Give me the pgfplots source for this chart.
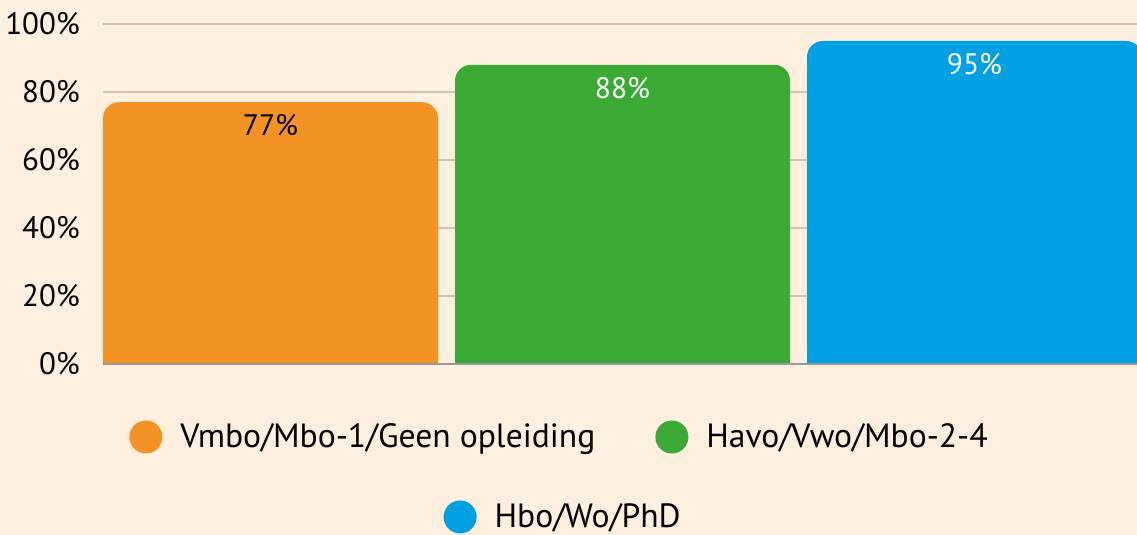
\documentclass[border=0pt]{standalone}
\usepackage{pgfplots}
\pgfplotsset{compat=1.18}
\usepackage{fontspec}
\setmainfont{PT Sans}
\definecolor{bg}{HTML}{FEEFDF}
\definecolor{c1}{HTML}{F39325}
\definecolor{c2}{HTML}{3BAA35}
\definecolor{c3}{HTML}{00A0E3}
\definecolor{gridc}{HTML}{D0C4B6}
\newcommand{\chartfont}{\fontsize{15.5}{18}\selectfont}
\newcommand{\barfont}{\fontsize{14.8}{17}\selectfont}
\newcommand{\legfont}{\fontsize{16.8}{19}\selectfont}
\pgfplotsset{circleg/.style={legend image code/.code={\fill[##1] (0pt,0pt) circle (8.25pt);}}}
\begin{document}
\begin{tikzpicture}
\fill[bg] (0,0) rectangle (568.5pt,267.5pt);
\useasboundingbox (0,0) rectangle (568.5pt,267.5pt);
% values are drawn with an offset of 20, so that 0% sits at 20 and the
% bars' own base (at the lower axis limit) lies below it, under a cover
\begin{axis}[
  at={(51.5pt,68.5pt)}, anchor=south west,
  scale only axis, width=517pt, height=187pt,
  xmin=-0.476, xmax=2.4616,
  ymin=10, ymax=120,
  ytick={20,40,60,80,100,120},
  yticklabels={0\%,20\%,40\%,60\%,80\%,100\%},
  xtick=\empty,
  ymajorgrids,
  grid style={gridc, line width=0.8pt},
  major tick length=0pt,
  axis line style={draw=none},
  yticklabel style={font=\chartfont, text=black, xshift=-8pt},
  /pgf/number format/assume math mode=true,
  point meta=explicit,
  nodes near coords={\pgfmathprintnumber{\pgfplotspointmeta}\%},
  every node near coord/.append style={font=\barfont, anchor=north, inner sep=0pt, yshift=-6pt},
  legend columns=2,
  legend style={at={(0.0251,-0.1043)}, anchor=west, draw=none, fill=none, inner sep=0pt,
    font=\legfont,
    /tikz/every odd column/.append style={column sep=7pt},
    /tikz/every even column/.append style={column sep=28pt}},
]
\addplot[ybar, bar width=167.5pt, bar shift=0pt, fill=c1, draw=none, rounded corners=8pt,
  circleg, every node near coord/.append style={text=black}]
  table[x=x, y expr=\thisrow{v}+20, meta=v] {
x v
0 77
};
\addlegendentry{Vmbo/Mbo-1/Geen opleiding}
\addplot[ybar, bar width=167.5pt, bar shift=0pt, fill=c2, draw=none, rounded corners=8pt,
  circleg, every node near coord/.append style={text=white}]
  table[x=x, y expr=\thisrow{v}+20, meta=v] {
x v
1 88
};
\addlegendentry{Havo/Vwo/Mbo-2-4}
\addplot[ybar, bar width=167.5pt, bar shift=0pt, fill=c3, draw=none, rounded corners=8pt,
  every node near coord/.append style={text=white}]
  table[x=x, y expr=\thisrow{v}+20, meta=v] {
x v
2 95
};
\fill[bg] (axis cs:-0.476,10) rectangle (axis cs:2.4616,20);
\draw[gray!80, line width=0.8pt] (axis cs:-0.476,20) -- (axis cs:2.4616,20);
\end{axis}
\begin{axis}[
  at={(51.5pt,85.5pt)}, anchor=south west,
  scale only axis, width=517pt, height=170pt,
  xmin=0, xmax=1, ymin=0, ymax=1, hide axis,
  circleg,
  legend style={at={(0.329,-0.45)}, anchor=west, draw=none, fill=none, inner sep=0pt,
    font=\legfont, /tikz/every odd column/.append style={column sep=7pt}},
]
\addlegendimage{fill=c3, draw=none}
\addlegendentry{Hbo/Wo/PhD}
\end{axis}
\end{tikzpicture}
\end{document}
